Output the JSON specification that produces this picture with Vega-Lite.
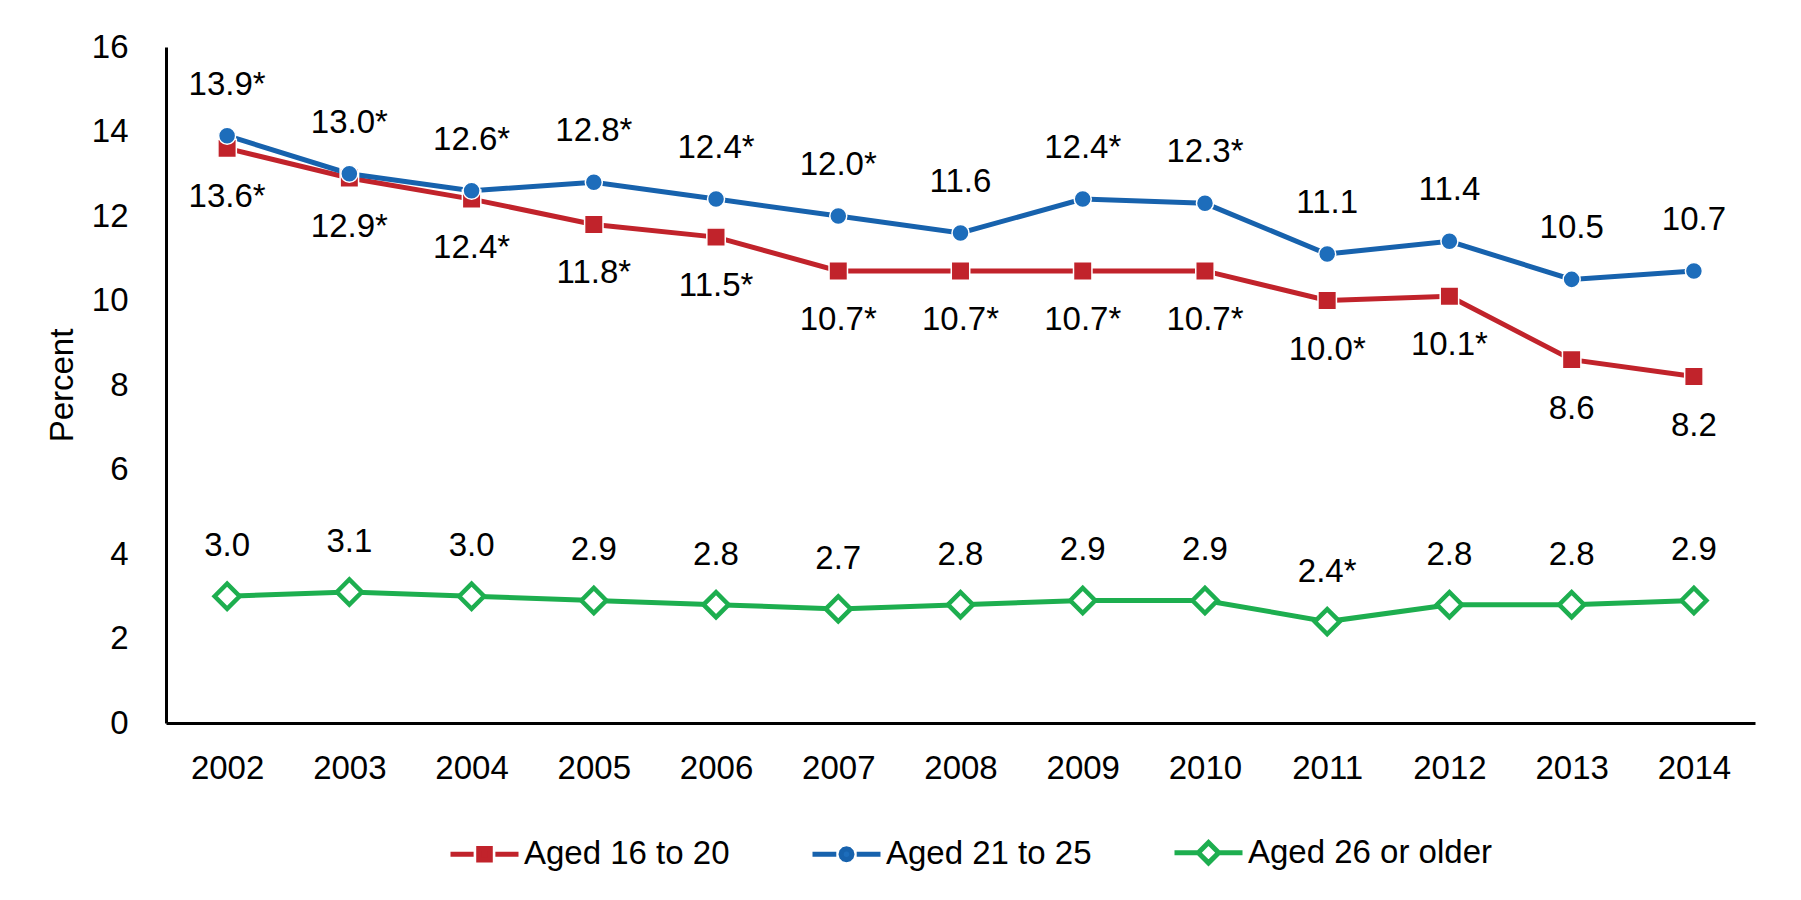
{
  "$schema": "https://vega.github.io/schema/vega-lite/v6.json",
  "autosize": {"type": "none"},
  "padding": {"left": 166, "top": 47, "right": 46, "bottom": 177},
  "width": 1589,
  "height": 676,
  "background": "white",
  "config": {
    "font": "Liberation Sans, Arial, sans-serif",
    "view": {"stroke": null},
    "axis": {
      "labelFont": "Liberation Sans, Arial, sans-serif",
      "labelFontSize": 33,
      "labelColor": "#000000",
      "titleFont": "Liberation Sans, Arial, sans-serif",
      "titleFontSize": 33,
      "titleFontWeight": "normal",
      "titleColor": "#000000",
      "grid": false,
      "ticks": false,
      "domainColor": "#000000",
      "domainWidth": 3
    },
    "legend": {
      "orient": "none",
      "legendX": 282,
      "legendY": 769,
      "direction": "horizontal",
      "labelFont": "Liberation Sans, Arial, sans-serif",
      "labelFontSize": 33,
      "labelColor": "#000000",
      "labelLimit": 400,
      "symbolSize": 4624,
      "symbolStrokeWidth": 5,
      "symbolOpacity": 1,
      "labelOffset": 3,
      "columnPadding": 72
    }
  },
  "data": {
    "values": [
      {"year": "2002", "series": "Aged 16 to 20", "value": 13.6, "label": "13.6*"},
      {"year": "2003", "series": "Aged 16 to 20", "value": 12.9, "label": "12.9*"},
      {"year": "2004", "series": "Aged 16 to 20", "value": 12.4, "label": "12.4*"},
      {"year": "2005", "series": "Aged 16 to 20", "value": 11.8, "label": "11.8*"},
      {"year": "2006", "series": "Aged 16 to 20", "value": 11.5, "label": "11.5*"},
      {"year": "2007", "series": "Aged 16 to 20", "value": 10.7, "label": "10.7*"},
      {"year": "2008", "series": "Aged 16 to 20", "value": 10.7, "label": "10.7*"},
      {"year": "2009", "series": "Aged 16 to 20", "value": 10.7, "label": "10.7*"},
      {"year": "2010", "series": "Aged 16 to 20", "value": 10.7, "label": "10.7*"},
      {"year": "2011", "series": "Aged 16 to 20", "value": 10.0, "label": "10.0*"},
      {"year": "2012", "series": "Aged 16 to 20", "value": 10.1, "label": "10.1*"},
      {"year": "2013", "series": "Aged 16 to 20", "value": 8.6, "label": "8.6"},
      {"year": "2014", "series": "Aged 16 to 20", "value": 8.2, "label": "8.2"},
      {"year": "2002", "series": "Aged 21 to 25", "value": 13.9, "label": "13.9*"},
      {"year": "2003", "series": "Aged 21 to 25", "value": 13.0, "label": "13.0*"},
      {"year": "2004", "series": "Aged 21 to 25", "value": 12.6, "label": "12.6*"},
      {"year": "2005", "series": "Aged 21 to 25", "value": 12.8, "label": "12.8*"},
      {"year": "2006", "series": "Aged 21 to 25", "value": 12.4, "label": "12.4*"},
      {"year": "2007", "series": "Aged 21 to 25", "value": 12.0, "label": "12.0*"},
      {"year": "2008", "series": "Aged 21 to 25", "value": 11.6, "label": "11.6"},
      {"year": "2009", "series": "Aged 21 to 25", "value": 12.4, "label": "12.4*"},
      {"year": "2010", "series": "Aged 21 to 25", "value": 12.3, "label": "12.3*"},
      {"year": "2011", "series": "Aged 21 to 25", "value": 11.1, "label": "11.1"},
      {"year": "2012", "series": "Aged 21 to 25", "value": 11.4, "label": "11.4"},
      {"year": "2013", "series": "Aged 21 to 25", "value": 10.5, "label": "10.5"},
      {"year": "2014", "series": "Aged 21 to 25", "value": 10.7, "label": "10.7"},
      {"year": "2002", "series": "Aged 26 or older", "value": 3.0, "label": "3.0"},
      {"year": "2003", "series": "Aged 26 or older", "value": 3.1, "label": "3.1"},
      {"year": "2004", "series": "Aged 26 or older", "value": 3.0, "label": "3.0"},
      {"year": "2005", "series": "Aged 26 or older", "value": 2.9, "label": "2.9"},
      {"year": "2006", "series": "Aged 26 or older", "value": 2.8, "label": "2.8"},
      {"year": "2007", "series": "Aged 26 or older", "value": 2.7, "label": "2.7"},
      {"year": "2008", "series": "Aged 26 or older", "value": 2.8, "label": "2.8"},
      {"year": "2009", "series": "Aged 26 or older", "value": 2.9, "label": "2.9"},
      {"year": "2010", "series": "Aged 26 or older", "value": 2.9, "label": "2.9"},
      {"year": "2011", "series": "Aged 26 or older", "value": 2.4, "label": "2.4*"},
      {"year": "2012", "series": "Aged 26 or older", "value": 2.8, "label": "2.8"},
      {"year": "2013", "series": "Aged 26 or older", "value": 2.8, "label": "2.8"},
      {"year": "2014", "series": "Aged 26 or older", "value": 2.9, "label": "2.9"}
    ]
  },
  "encoding": {
    "x": {
      "field": "year",
      "type": "ordinal",
      "scale": {"type": "point", "padding": 0.5},
      "axis": {"title": null, "labelAngle": 0, "labelPadding": 29}
    },
    "y": {
      "field": "value",
      "type": "quantitative",
      "scale": {"domain": [0, 16], "nice": false, "zero": true},
      "axis": {"title": "Percent", "values": [0, 2, 4, 6, 8, 10, 12, 14, 16], "labelPadding": 38, "titlePadding": 12}
    }
  },
  "layer": [
    {
      "transform": [{"filter": "datum.series === 'Aged 16 to 20'"}],
      "mark": {"type": "line", "strokeWidth": 5, "stroke": "#C1232B"}
    },
    {
      "transform": [{"filter": "datum.series === 'Aged 21 to 25'"}],
      "mark": {"type": "line", "strokeWidth": 5, "stroke": "#1762AD"}
    },
    {
      "transform": [{"filter": "datum.series === 'Aged 26 or older'"}],
      "mark": {"type": "line", "strokeWidth": 5, "stroke": "#1DAE4F"}
    },
    {
      "transform": [{"filter": "datum.series === 'Aged 16 to 20'"}],
      "mark": {"type": "point", "shape": "square", "filled": true, "fill": "#C1232B", "stroke": "#ffffff", "strokeWidth": 1.5, "size": 340, "opacity": 1}
    },
    {
      "transform": [{"filter": "datum.series === 'Aged 21 to 25'"}],
      "mark": {"type": "point", "shape": "circle", "filled": true, "fill": "#1D6DBB", "stroke": "#ffffff", "strokeWidth": 1.5, "size": 290, "opacity": 1}
    },
    {
      "transform": [{"filter": "datum.series === 'Aged 26 or older'"}],
      "mark": {"type": "point", "shape": "diamond", "filled": true, "fill": "#ffffff", "stroke": "#1DAE4F", "strokeWidth": 4.5, "size": 625, "opacity": 1}
    },
    {
      "mark": {"type": "point", "filled": true, "opacity": 0, "size": 10},
      "encoding": {
        "shape": {
          "field": "series",
          "type": "nominal",
          "title": null,
          "scale": {"domain": ["Aged 16 to 20", "Aged 21 to 25", "Aged 26 or older"], "range": [
            "M-1,0L-0.32,0M0.32,0L1,0M-0.17,-0.17L0.17,-0.17L0.17,0.17L-0.17,0.17Z",
            "M-1,0L-0.3,0M0.3,0L1,0M0.16,0L0.139,0.08L0.08,0.139L0,0.16L-0.08,0.139L-0.139,0.08L-0.16,0L-0.139,-0.08L-0.08,-0.139L0,-0.16L0.08,-0.139L0.139,-0.08Z",
            "M-1,0L-0.3,0M0.3,0L1,0M-0.3,0L0,-0.3L0.3,0L0,0.3Z"
          ]}
        },
        "fill": {
          "field": "series",
          "type": "nominal",
          "title": null,
          "scale": {"domain": ["Aged 16 to 20", "Aged 21 to 25", "Aged 26 or older"], "range": ["#C1232B", "#1D6DBB", "#ffffff"]}
        },
        "stroke": {
          "field": "series",
          "type": "nominal",
          "title": null,
          "scale": {"domain": ["Aged 16 to 20", "Aged 21 to 25", "Aged 26 or older"], "range": ["#C1232B", "#1762AD", "#1DAE4F"]}
        }
      }
    },
    {
      "transform": [{"filter": "datum.series === 'Aged 16 to 20'"}],
      "mark": {"type": "text", "fontSize": 33, "font": "Liberation Sans, Arial, sans-serif", "color": "#000000", "baseline": "alphabetic", "dy": 59},
      "encoding": {"text": {"field": "label"}}
    },
    {
      "transform": [{"filter": "datum.series === 'Aged 21 to 25'"}],
      "mark": {"type": "text", "fontSize": 33, "font": "Liberation Sans, Arial, sans-serif", "color": "#000000", "baseline": "alphabetic", "dy": -41},
      "encoding": {"text": {"field": "label"}}
    },
    {
      "transform": [{"filter": "datum.series === 'Aged 26 or older'"}],
      "mark": {"type": "text", "fontSize": 33, "font": "Liberation Sans, Arial, sans-serif", "color": "#000000", "baseline": "alphabetic", "dy": -40},
      "encoding": {"text": {"field": "label"}}
    }
  ]
}
